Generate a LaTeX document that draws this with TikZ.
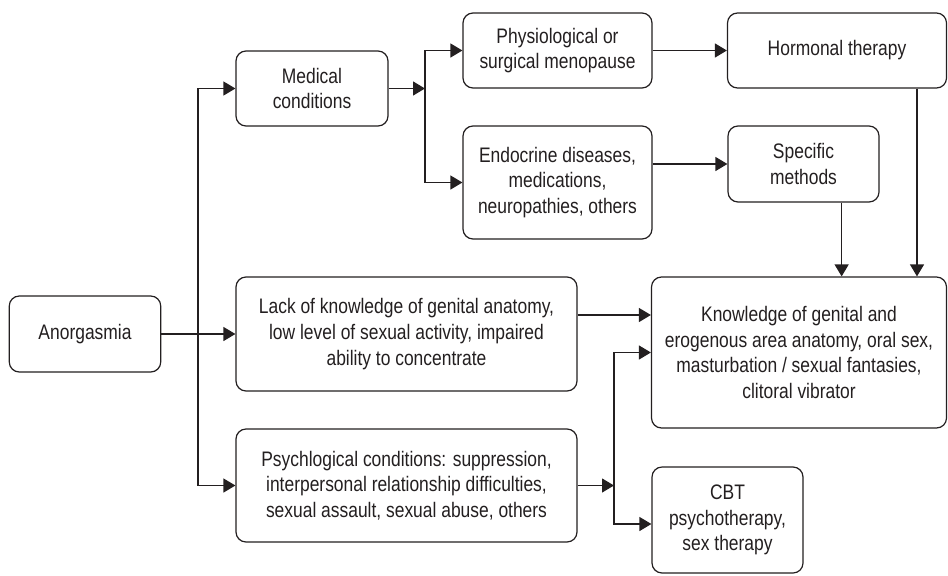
\documentclass[tikz,border=0pt]{standalone}
\usepackage{fontspec}
\setmainfont{Liberation Sans}[FakeStretch=0.83]
\usetikzlibrary{
  arrows.meta,
  positioning,
  calc
}
\definecolor{anline}{HTML}{231F20}

\begin{document}
\begin{tikzpicture}[
      x=0.75pt, y=-0.75pt,
      box/.style={
        rectangle, rounded corners=7.5pt,
        draw=anline, line width=0.9pt, fill=white,
        font=\fontsize{15.75}{19.3}\selectfont\color{anline},
        align=center, inner sep=2pt
      },
      arrow/.style={-{Triangle[length=9pt, width=10.5pt]}, line width=0.9pt, anline}
    ]
      \useasboundingbox (0,0) rectangle (948,575);

      \node[box, minimum width=113.6pt, minimum height=57pt] (anorg) at (85,334) {Anorgasmia};
      \node[box, minimum width=114pt, minimum height=56.25pt] (medical) at (312,88.5) {Medical\\conditions};
      \node[box, minimum width=141.75pt, minimum height=56.25pt] (physio) at (557.5,50.5) {Physiological or\\surgical menopause};
      \node[box, minimum width=141.75pt, minimum height=84.75pt] (endo) at (557.5,182.5) {Endocrine diseases,\\medications,\\neuropathies, others};
      \node[box, minimum width=164.25pt, minimum height=56.25pt] (hormonal) at (837,50.5) {Hormonal therapy};
      \node[box, minimum width=113.25pt, minimum height=57pt] (specific) at (803.5,164) {Specific\\methods};
      \node[box, minimum width=255.75pt, minimum height=85.5pt] (lack) at (406.5,334) {Lack of knowledge of genital anatomy,\\low level of sexual activity, impaired\\ability to concentrate};
      \node[box, minimum width=255.75pt, minimum height=84.75pt] (psych) at (406.5,485.5) {Psychlogical conditions: suppression,\\interpersonal relationship difficulties,\\sexual assault, sexual abuse, others};
      \node[box, minimum width=221.25pt, minimum height=113.25pt] (knowl) at (799,352.5) {Knowledge of genital and\\erogenous area anatomy, oral sex,\\masturbation / sexual fantasies,\\clitoral vibrator};
      \node[box, minimum width=113.25pt, minimum height=79.5pt] (cbt) at (727.5,520) {CBT\\psychotherapy,\\sex therapy};

      \coordinate (split) at (198,334);
      \coordinate (msplit) at (425,88.5);
      \coordinate (psplit) at (614,485.5);

      \draw[arrow] (anorg) -- (lack);
      \draw[arrow] (split) |- (medical);
      \draw[arrow] (split) |- (psych);

      \draw[arrow] (medical) -- (msplit);
      \draw[arrow] (msplit) |- (physio);
      \draw[arrow] (msplit) |- (endo);

      \draw[arrow] (physio) -- (hormonal);
      \draw[arrow] (endo.east |- specific.west) -- (specific.west);
      \draw[arrow] ([xshift=28.6pt]specific.south) -- ([xshift=28.6pt]specific.south |- knowl.north);
      \draw[arrow] ([xshift=60pt]hormonal.south) -- ([xshift=60pt]hormonal.south |- knowl.north);

      \draw[arrow] ([yshift=14.25pt]lack.east) -- ([yshift=14.25pt]lack.east -| knowl.west);
      \draw[arrow] (psych) -- (psplit);
      \draw[arrow] (psplit) |- (knowl);
      \draw[arrow] (psplit) |- ([yshift=-3pt]cbt.west);
    \end{tikzpicture}
\end{document}
